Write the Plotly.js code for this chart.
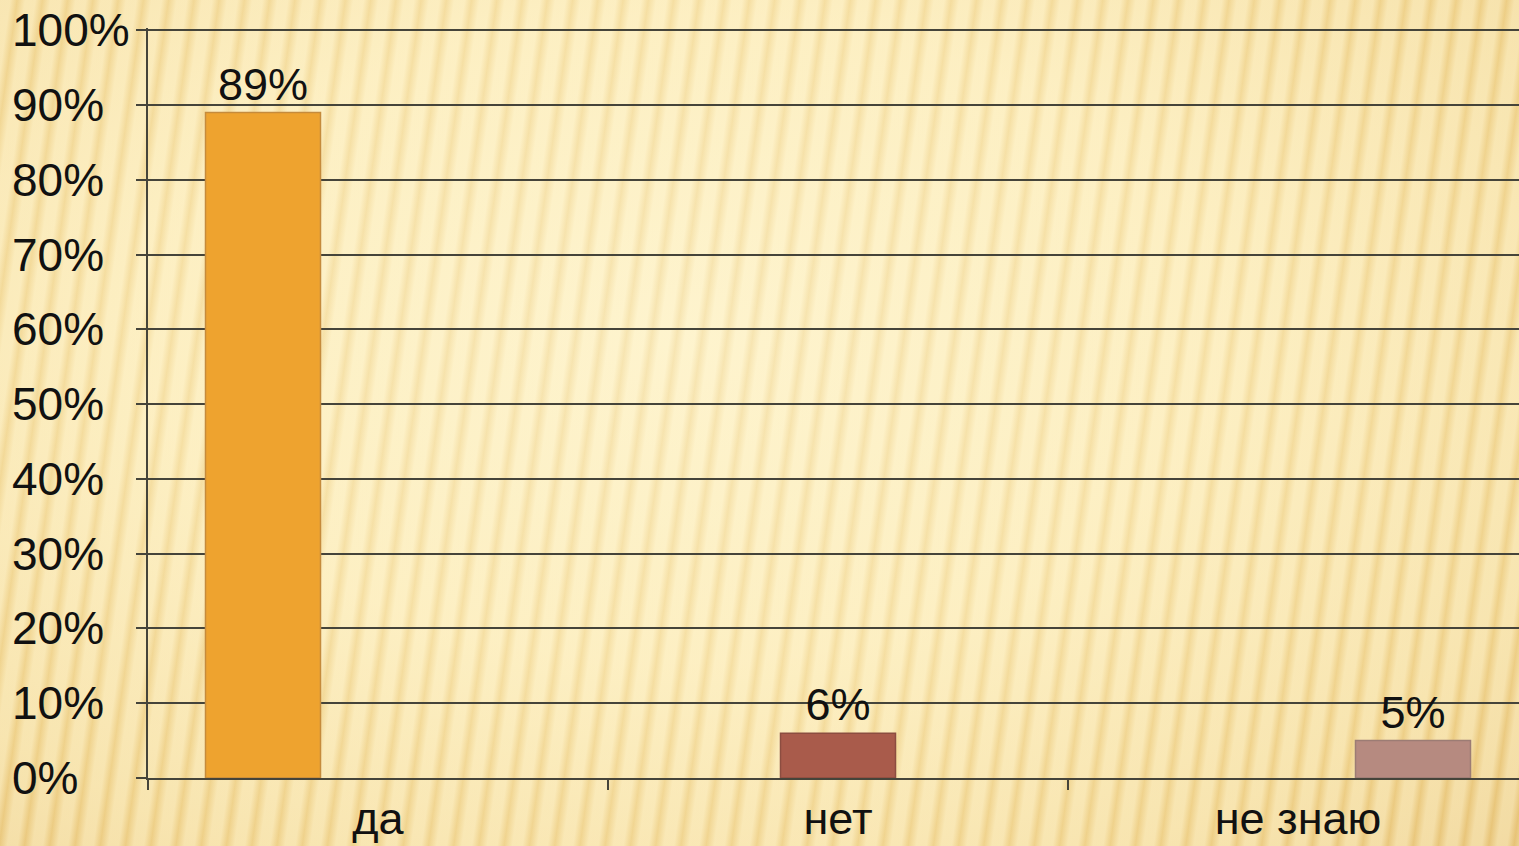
<!DOCTYPE html>
<html>
<head>
<meta charset="utf-8">
<script src="https://cdn.plot.ly/plotly-3.0.1.min.js"></script>
<style>
  html, body { margin: 0; padding: 0; width: 1519px; height: 846px; overflow: hidden; }
  body {
    background:
      repeating-linear-gradient(98deg, rgba(255,248,215,0.45) 0px, rgba(255,248,215,0.45) 10px, rgba(226,192,112,0.22) 17px, rgba(255,248,215,0.45) 25px),
      radial-gradient(ellipse at 45% 40%, #fdf0c6 0%, #fbe8b2 45%, #f2d590 80%, #e8c378 100%);
  }
  #chart { width: 1519px; height: 846px; }
</style>
</head>
<body>
<div id="chart"></div>
<script>
const categories = ["да", "нет", "не знаю"];
const seriesNames = ["да", "нет", "не знаю"];
const valuesDa = [89, null, null];
const valuesNet = [null, 6, null];
const valuesNeZnayu = [null, null, 5];
const yTicks = [0, 10, 20, 30, 40, 50, 60, 70, 80, 90, 100];
const yTickLabels = ["0%", "10%", "20%", "30%", "40%", "50%", "60%", "70%", "80%", "90%", "100%"];

const fillColors = ["#eea32f", "#a95b4b", "#b68a80"];
const lineColors = ["#c58b3c", "#8c4d40", "#9c7c74"];
const seriesValues = [valuesDa, valuesNet, valuesNeZnayu];
const FONT = '"Liberation Sans", Arial, sans-serif';
const gridColor = "#45443a";

const traces = seriesValues.map((vals, i) => ({
  type: "bar",
  name: seriesNames[i],
  x: categories,
  y: vals,
  marker: { color: fillColors[i], line: { color: lineColors[i], width: 1.5 } },
  text: vals.map(v => v == null ? "" : v + "%"),
  textposition: "outside",
  constraintext: "none",
  cliponaxis: false,
  textfont: { family: FONT, size: 45, color: "#111111" },
  hoverinfo: "x+y"
}));

const annotations = yTicks.map((v, i) => ({
  xref: "paper", yref: "y",
  x: -138 / 1371, y: v,
  xanchor: "left", yanchor: "middle",
  text: yTickLabels[i],
  showarrow: false,
  font: { family: FONT, size: 46, color: "#111111" }
}));

const layout = {
  width: 1519, height: 846,
  margin: { l: 148, r: 0, t: 28, b: 68, pad: 0 },
  paper_bgcolor: "rgba(0,0,0,0)",
  plot_bgcolor: "rgba(0,0,0,0)",
  showlegend: false,
  barmode: "group",
  bargap: 0.25,
  bargroupgap: 0,
  font: { family: FONT, size: 45, color: "#111111" },
  xaxis: {
    type: "category",
    range: [-0.5, -0.5 + 1371 / 460],
    showgrid: false,
    showline: true, linecolor: gridColor, linewidth: 2,
    ticks: "outside", tickson: "boundaries", ticklen: 10, tickwidth: 2, tickcolor: gridColor,
    tickfont: { family: FONT, size: 45, color: "#111111" },
    ticklabelstandoff: 0,
    automargin: false
  },
  yaxis: {
    range: [0, 100.3],
    tickvals: yTicks,
    showticklabels: false,
    showgrid: true, gridcolor: gridColor, gridwidth: 2,
    showline: true, linecolor: gridColor, linewidth: 2,
    ticks: "outside", ticklen: 10, tickwidth: 2, tickcolor: gridColor,
    zeroline: false,
    automargin: false
  },
  annotations: annotations
};

Plotly.newPlot("chart", traces, layout, { displayModeBar: false, staticPlot: true });
</script>
</body>
</html>
